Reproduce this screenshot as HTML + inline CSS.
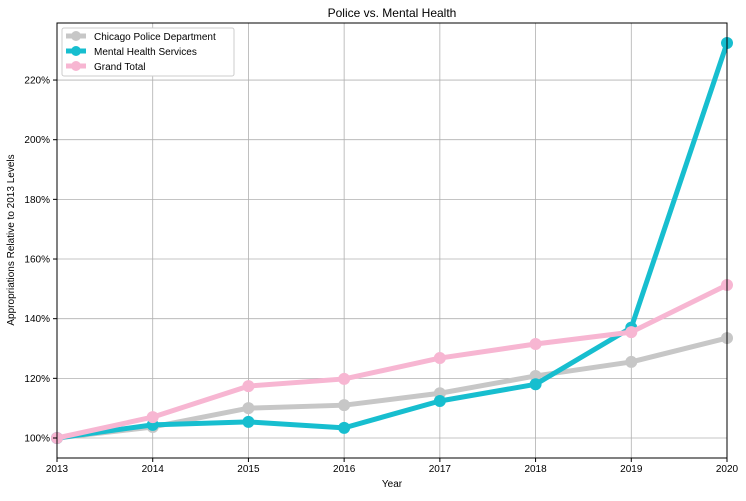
<!DOCTYPE html>
<html><head><meta charset="utf-8"><style>
body{margin:0;background:#fff;font-family:"Liberation Sans",sans-serif;}
svg text{font-family:"Liberation Sans",sans-serif;}
</style></head><body>
<svg id="chart" width="746" height="496" xmlns="http://www.w3.org/2000/svg">
<text x="392" y="17" font-size="12" text-anchor="middle">Police vs. Mental Health</text>
<text x="392" y="487" font-size="10" text-anchor="middle">Year</text>
<text transform="translate(14,240) rotate(-90)" font-size="10" text-anchor="middle">Appropriations Relative to 2013 Levels</text>
<g id="grid"></g><g id="series"></g><g id="axes"></g>
<g>
<rect x="62" y="28" width="172" height="48" fill="#fff" stroke="#ccc" rx="2"/>
<g><line x1="66" y1="36" x2="86" y2="36" stroke="#c7c7c7" stroke-width="5"/><circle cx="76" cy="36" r="5" fill="#c7c7c7"/><text x="94" y="40" font-size="10">Chicago Police Department</text></g>
<g><line x1="66" y1="51" x2="86" y2="51" stroke="#17becf" stroke-width="5"/><circle cx="76" cy="51" r="5" fill="#17becf"/><text x="94" y="55" font-size="10">Mental Health Services</text></g>
<g><line x1="66" y1="66" x2="86" y2="66" stroke="#f7b6d2" stroke-width="5"/><circle cx="76" cy="66" r="5" fill="#f7b6d2"/><text x="94" y="70" font-size="10">Grand Total</text></g>
</g>
</svg>
<script>
const years=[2013,2014,2015,2016,2017,2018,2019,2020];
const cpd=[100,103.7,110,111,115,120.8,125.5,133.5];
const mhs=[100,104.4,105.4,103.4,112.4,118,137,232.4];
const total=[100,107,117.4,119.8,126.8,131.5,135.5,151.3];
const yTicks=[100,120,140,160,180,200,220];
const L=57,R=727,T=23,B=458;
const x=v=>L+(v-2013)/(2020-2013)*(R-L);
const y=v=>438-(v-100)*2.983;
const NS="http://www.w3.org/2000/svg";
function mk(tag,attrs,parent){const e=document.createElementNS(NS,tag);for(const k in attrs)e.setAttribute(k,attrs[k]);parent.appendChild(e);return e;}
const grid=document.getElementById('grid'),axes=document.getElementById('axes'),ser=document.getElementById('series');
years.forEach(yr=>{
 const g=mk('line',{x1:x(yr),x2:x(yr),y1:T,y2:B,stroke:'#b0b0b0','stroke-width':0.8},grid);
 
 
 const t=mk('text',{x:x(yr),y:B+14,'font-size':10,'text-anchor':'middle'},axes);
 t.textContent=yr;
 
 
 mk('line',{x1:x(yr),x2:x(yr),y1:B,y2:B+4,stroke:'#000'},axes);
});
yTicks.forEach(v=>{
 const g=mk('line',{x1:L,x2:R,y1:y(v),y2:y(v),stroke:'#b0b0b0','stroke-width':0.8},grid);
 
 
 const t=mk('text',{x:L-7,y:y(v)+3.5,'font-size':10,'text-anchor':'end'},axes);
 t.textContent=v+'%';
 
 
 mk('line',{x1:L-4,x2:L,y1:y(v),y2:y(v),stroke:'#000'},axes);
});
const frame=mk('rect',{x:L,y:T,width:R-L,height:B-T,fill:'none',stroke:'#000','stroke-width':1},axes);


function draw(vals,color,name){
 const p=mk('polyline',{points:vals.map((v,i)=>x(years[i])+','+y(v)).join(' '),fill:'none',stroke:color,'stroke-width':5,'stroke-linejoin':'round'},ser);
 
 
 vals.forEach((v,i)=>{
  const c=mk('circle',{cx:x(years[i]),cy:y(v),r:6,fill:color},ser);
  
  
 });
}
draw(cpd,'#c7c7c7','cpd');
draw(mhs,'#17becf','mhs');
draw(total,'#f7b6d2','total');
</script>
</body></html>
